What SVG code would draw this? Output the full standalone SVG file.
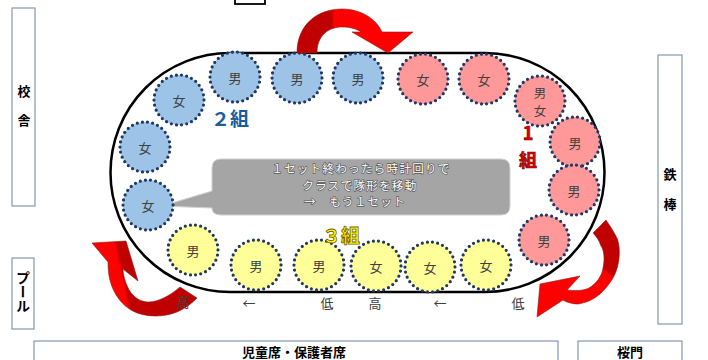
<svg xmlns="http://www.w3.org/2000/svg" width="708" height="360" viewBox="0 0 708 360">
<style>
.box{fill:#fff;stroke:#8497b0;stroke-width:1.2}
.lbl{font-family:"Noto Sans CJK JP",sans-serif;font-weight:bold;font-size:13px;fill:#000;text-anchor:middle;dominant-baseline:central}
.st{stroke:#1f3864;stroke-width:3.2;stroke-dasharray:0 5.2;stroke-linecap:round}
.b{fill:#9dc3e6}
.r{fill:#ff9999}
.y{fill:#ffff99}
.ct{font-family:"Noto Sans CJK JP",sans-serif;font-size:13px;fill:#404040;text-anchor:middle;dominant-baseline:central}
.call{font-family:"Noto Sans CJK JP",sans-serif;font-size:11.5px;letter-spacing:1.3px;fill:#fff;stroke:#595959;stroke-width:1.3;paint-order:stroke;text-anchor:middle}
.grp{font-family:"Noto Sans CJK JP",sans-serif;font-weight:bold;font-size:19px;text-anchor:middle}
</style>
<defs>
<linearGradient id="gTop" gradientUnits="userSpaceOnUse" x1="297" y1="0" x2="413" y2="0">
<stop offset="0" stop-color="#c00000"/><stop offset="0.3" stop-color="#c00000"/><stop offset="0.32" stop-color="#ff0000"/><stop offset="1" stop-color="#ff0000"/>
</linearGradient>
<linearGradient id="gRight" gradientUnits="userSpaceOnUse" x1="612" y1="262" x2="598" y2="278">
<stop offset="0" stop-color="#c00000"/><stop offset="0.45" stop-color="#c00000"/><stop offset="0.55" stop-color="#ff0000"/><stop offset="1" stop-color="#ff0000"/>
</linearGradient>
<linearGradient id="gLeft" gradientUnits="userSpaceOnUse" x1="112" y1="285" x2="135" y2="280">
<stop offset="0" stop-color="#ff0000"/><stop offset="0.45" stop-color="#ff0000"/><stop offset="0.6" stop-color="#c00000"/><stop offset="1" stop-color="#c00000"/>
</linearGradient>
</defs>
<rect width="708" height="360" fill="#fff"/>

<!-- side boxes -->
<g id="kousha"><rect class="box" x="12" y="8" width="23" height="198"/>
<text class="lbl" x="24" y="90">校</text><text class="lbl" x="24" y="119">舎</text></g>
<g id="pool"><rect class="box" x="12" y="258" width="22" height="71"/>
<text class="lbl" x="23" y="271" writing-mode="vertical-rl" style="dominant-baseline:auto;text-anchor:start;font-size:14px">プール</text></g>
<g id="tetsubou"><rect class="box" x="658" y="55" width="24" height="269"/>
<text class="lbl" x="670" y="173">鉄</text><text class="lbl" x="670" y="203">棒</text></g>
<g id="seats"><rect class="box" x="34" y="341" width="524" height="30"/>
<text class="lbl" x="294" y="351">児童席・保護者席</text></g>
<g id="sakuramon"><rect class="box" x="578" y="341" width="104" height="30"/>
<text class="lbl" x="630" y="351">桜門</text></g>
<g id="topbox"><rect x="235" y="-6" width="30" height="10" fill="none" stroke="#000" stroke-width="1.8"/></g>

<!-- track -->
<g id="track"><path d="M230,53 H485 A119.5,119.5 0 0 1 485,292 H230 A119.5,119.5 0 0 1 230,53 Z" fill="#fff" stroke="#000" stroke-width="2.5"/></g>

<!-- callout -->
<g id="callout">
<path d="M221,159 H501 Q510,159 510,168 V206 Q510,215 501,215 H221 Q212,215 212,208 L162,206 L212,191 V168 Q212,159 221,159 Z" fill="#a5a5a5" stroke="#d0d0d0" stroke-width="1"/>
<text class="call"><tspan x="361" y="173">１セット終わったら時計回りで</tspan><tspan x="360" y="189.5">クラスで隊形を移動</tspan><tspan x="355" y="206">→　もう１セット</tspan></text>
</g>

<!-- group 2 (blue) -->
<g id="g2-1"><circle class="b st" cx="235" cy="77" r="25"/><text class="ct" x="235" y="77">男</text></g>
<g id="g2-2"><circle class="b st" cx="297" cy="78" r="25"/><text class="ct" x="297" y="78">男</text></g>
<g id="g2-3"><circle class="b st" cx="358" cy="78" r="25"/><text class="ct" x="358" y="78">男</text></g>
<g id="g2-4"><circle class="b st" cx="179" cy="100" r="25"/><text class="ct" x="179" y="100">女</text></g>
<g id="g2-5"><circle class="b st" cx="145" cy="147" r="25"/><text class="ct" x="145" y="147">女</text></g>
<g id="g2-6"><circle class="b st" cx="148" cy="205" r="25"/><text class="ct" x="148" y="205">女</text></g>

<!-- group 1 (red) -->
<g id="g1-1"><circle class="r st" cx="423" cy="79" r="25"/><text class="ct" x="423" y="79">女</text></g>
<g id="g1-2"><circle class="r st" cx="484" cy="79" r="25"/><text class="ct" x="484" y="79">女</text></g>
<g id="g1-3"><circle class="r st" cx="540" cy="101" r="25"/><text class="ct" style="font-size:12.5px"><tspan x="540" y="92">男</tspan><tspan x="540" y="110.2">女</tspan></text></g>
<g id="g1-4"><circle class="r st" cx="575" cy="142" r="25"/><text class="ct" x="575" y="142">男</text></g>
<g id="g1-5"><circle class="r st" cx="574" cy="190" r="25"/><text class="ct" x="574" y="190">男</text></g>
<g id="g1-6"><circle class="r st" cx="544" cy="240" r="25"/><text class="ct" x="544" y="240">男</text></g>

<!-- group 3 (yellow) -->
<g id="g3-1"><circle class="y st" cx="193" cy="250" r="25"/><text class="ct" x="193" y="250">男</text></g>
<g id="g3-2"><circle class="y st" cx="256" cy="265" r="25"/><text class="ct" x="256" y="265">男</text></g>
<g id="g3-3"><circle class="y st" cx="319" cy="265" r="25"/><text class="ct" x="319" y="265">男</text></g>
<g id="g3-4"><circle class="y st" cx="376" cy="266" r="25"/><text class="ct" x="376" y="266">女</text></g>
<g id="g3-5"><circle class="y st" cx="430" cy="267" r="25"/><text class="ct" x="430" y="267">女</text></g>
<g id="g3-6"><circle class="y st" cx="486" cy="265" r="25"/><text class="ct" x="486" y="265">女</text></g>

<!-- group labels -->
<text class="grp" x="230" y="126" fill="#1b5c9e">２組</text>
<text class="grp" fill="#e00000" stroke="#7f0000" stroke-width="0.6" style="font-size:18px"><tspan x="528" y="140">1</tspan><tspan x="528" y="167">組</tspan></text>
<text class="grp" x="341" y="243" fill="#ffff00" stroke="#7f6000" stroke-width="0.8">３組</text>

<!-- arrows -->
<g id="connectors" stroke="#8c1a1a" stroke-width="0.6">
<path d="M297,53 C297,24 318,9 342,9 C362,9 377,20 382,32 L413,32 L388,53 L352,32 L361,32 C357,29 350,27 342,27 C328,27 317,36 317,53 Z" fill="url(#gTop)"/>
<path d="M593,233 L606,220 C613,230 617,238 617,238 C621,248 620,266 613,278 C607,288 600,294 600,294 C593,300 585,303 578,304 C572,304 566,302 563,300 L537,317 L540,284 L580,276 L567,290 C574,291 583,291 589,288 C596,284 602,276 603,268 C605,259 604,250 601,246 C599,240 596,236 593,233 Z" fill="url(#gRight)"/>
<path d="M92,243 L126,241 L138,281 L123,269 C123,276 127,289 133,295 C138,300 143,302 149,302 C157,302 170,296 180,287 L197,298 C190,305 184,309 177,312 C169,315 162,316 156,316 C146,316 138,314 131,310 C123,305 117,298 113,289 C110,282 108,274 108,262 Z" fill="url(#gLeft)"/>
</g>

<!-- bottom labels -->
<g id="bottom-labels">
<text class="ct" x="249" y="302">←</text>
<text class="ct" x="327" y="302">低</text>
<text class="ct" x="375" y="302">高</text>
<text class="ct" x="440" y="302">←</text>
<text class="ct" x="518" y="302">低</text>
<text class="ct" x="183" y="301">高</text>
</g>
</svg>
